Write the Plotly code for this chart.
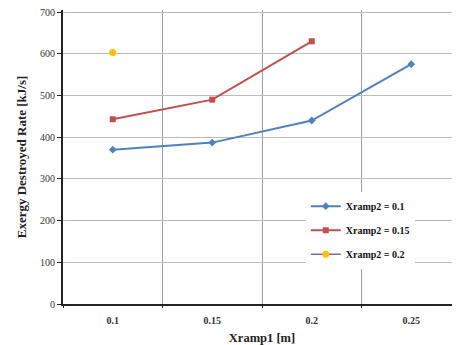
import plotly.graph_objects as go

categories = ["0.1", "0.15", "0.2", "0.25"]
xramp2_01 = [370, 387, 440, 575]
xramp2_015 = [443, 490, 630]
xramp2_02 = [603]

font_family = "Liberation Serif, Times New Roman, serif"

fig = go.Figure()
fig.add_trace(go.Scatter(
    x=categories[:len(xramp2_01)], y=xramp2_01, mode="lines+markers",
    name="Xramp2 = 0.1", legendgroup="a",
    line=dict(color="#4F81BD", width=2),
    marker=dict(symbol="diamond", size=6, color="#4F81BD"),
))
fig.add_trace(go.Scatter(
    x=categories[:len(xramp2_015)], y=xramp2_015, mode="lines+markers",
    name="Xramp2 = 0.15", legendgroup="b",
    line=dict(color="#C0504D", width=2),
    marker=dict(symbol="square", size=6, color="#C0504D"),
))
fig.add_trace(go.Scatter(
    x=categories[:len(xramp2_02)], y=xramp2_02, mode="lines+markers",
    name="Xramp2 = 0.2", legendgroup="c",
    line=dict(color="#7F6A9F", width=1.5),
    marker=dict(symbol="circle", size=7, color="#FFC000"),
))

fig.update_layout(
    width=453, height=337,
    margin=dict(l=55, r=0, t=2, b=41),
    paper_bgcolor="white", plot_bgcolor="white",
    font=dict(family=font_family, color="#222222", size=10),
    showlegend=True,
    legend=dict(
        x=0.61, y=0.382, xanchor="left", yanchor="top",
        bgcolor="white", borderwidth=0,
        font=dict(family=font_family, size=10, color="#111111", weight="bold"),
        tracegroupgap=5, itemwidth=30,
    ),
    xaxis=dict(
        type="category", categoryorder="array", categoryarray=categories,
        tickson="boundaries", showgrid=True, gridcolor="#A0A0A0", gridwidth=1,
        showline=True, linecolor="#222222", linewidth=2,
        ticks="outside", ticklen=2, tickcolor="#222222",
        ticklabelstandoff=6,
        tickfont=dict(family=font_family, size=10, color="#333333", weight="bold"),
        title=dict(text="Xramp1 [m]", standoff=16,
                   font=dict(family=font_family, size=12.5, color="#222222", weight="bold")),
        range=[-0.5, 3.5], automargin=False,
    ),
    yaxis=dict(
        range=[0, 705], dtick=100, showgrid=True, gridcolor="#BBBBBB", gridwidth=1,
        showline=True, linecolor="#222222", linewidth=2,
        ticks="outside", ticklen=4, tickcolor="#222222",
        tickfont=dict(family=font_family, size=10, color="#333333"),
        ticklabeloverflow="allow",
        title=dict(text="Exergy Destroyed Rate [kJ/s]", standoff=10,
                   font=dict(family=font_family, size=13, color="#222222", weight="bold")),
        zeroline=False, automargin=False,
    ),
)

fig.write_html("out.html")
